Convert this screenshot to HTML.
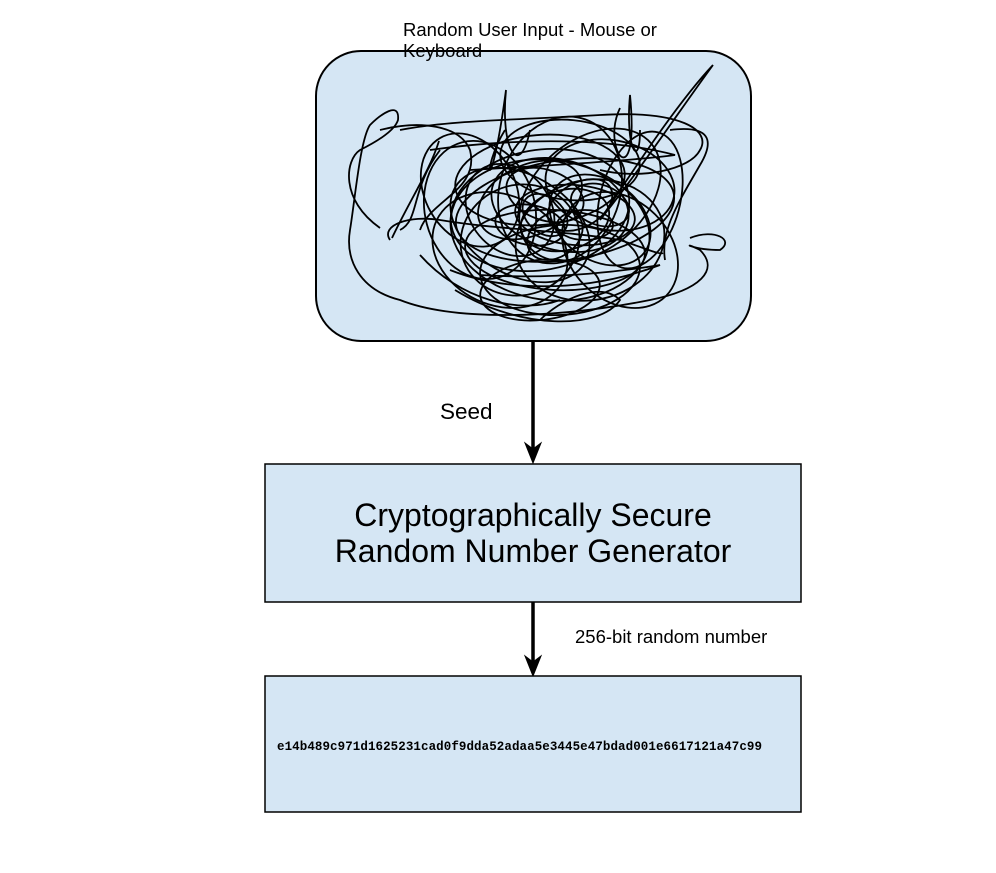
<!DOCTYPE html>
<html><head><meta charset="utf-8"><style>
html,body{margin:0;padding:0;background:#fff;}
svg{display:block;}
</style></head><body>
<svg width="996" height="873" viewBox="0 0 996 873" xmlns="http://www.w3.org/2000/svg">
<rect x="316" y="51" width="435" height="290" rx="45" ry="45" fill="#d5e6f4" stroke="#000" stroke-width="2"/>
<g fill="none" stroke="#000" stroke-width="1.8">
<ellipse cx="540" cy="210" rx="90" ry="60" transform="rotate(-10 540 210)"/>
<ellipse cx="560" cy="205" rx="70" ry="45" transform="rotate(15 560 205)"/>
<ellipse cx="530" cy="200" rx="55" ry="35" transform="rotate(-25 530 200)"/>
<ellipse cx="575" cy="215" rx="60" ry="30" transform="rotate(5 575 215)"/>
<ellipse cx="520" cy="225" rx="75" ry="50" transform="rotate(30 520 225)"/>
<ellipse cx="590" cy="195" rx="80" ry="55" transform="rotate(-40 590 195)"/>
<ellipse cx="550" cy="230" rx="100" ry="70" transform="rotate(8 550 230)"/>
<ellipse cx="545" cy="195" rx="40" ry="25" transform="rotate(20 545 195)"/>
<ellipse cx="565" cy="220" rx="45" ry="30" transform="rotate(-15 565 220)"/>
<ellipse cx="510" cy="210" rx="50" ry="40" transform="rotate(50 510 210)"/>
<ellipse cx="600" cy="220" rx="55" ry="40" transform="rotate(35 600 220)"/>
<ellipse cx="540" cy="180" rx="85" ry="45" transform="rotate(-5 540 180)"/>
<ellipse cx="555" cy="250" rx="90" ry="40" transform="rotate(3 555 250)"/>
<ellipse cx="580" cy="205" rx="35" ry="22" transform="rotate(-30 580 205)"/>
<ellipse cx="530" cy="225" rx="35" ry="20" transform="rotate(10 530 225)"/>
<ellipse cx="560" cy="190" rx="60" ry="75" transform="rotate(20 560 190)"/>
<ellipse cx="520" cy="240" rx="60" ry="55" transform="rotate(-20 520 240)"/>
<ellipse cx="610" cy="185" rx="65" ry="45" transform="rotate(10 610 185)"/>
<ellipse cx="480" cy="210" rx="55" ry="70" transform="rotate(-15 480 210)"/>
<ellipse cx="565" cy="210" rx="110" ry="50" transform="rotate(-8 565 210)"/>
<ellipse cx="545" cy="215" rx="25" ry="18" transform="rotate(40 545 215)"/>
<ellipse cx="585" cy="225" rx="28" ry="15"/>
<ellipse cx="590" cy="240" rx="75" ry="60" transform="rotate(-12 590 240)"/>
<ellipse cx="500" cy="250" rx="70" ry="55" transform="rotate(25 500 250)"/>
<ellipse cx="620" cy="250" rx="65" ry="50" transform="rotate(45 620 250)"/>
<ellipse cx="560" cy="270" rx="80" ry="45" transform="rotate(-3 560 270)"/>
<ellipse cx="470" cy="190" rx="45" ry="60" transform="rotate(-30 470 190)"/>
<ellipse cx="640" cy="200" rx="40" ry="70" transform="rotate(15 640 200)"/>
<ellipse cx="570" cy="160" rx="70" ry="40" transform="rotate(6 570 160)"/>
<ellipse cx="540" cy="290" rx="60" ry="30" transform="rotate(-6 540 290)"/>
<ellipse cx="600" cy="205" rx="30" ry="20" transform="rotate(20 600 205)"/>
<ellipse cx="555" cy="235" rx="30" ry="22" transform="rotate(-35 555 235)"/>
<path d="M380 228 C340 200 345 160 360 150 C380 140 395 130 398 120 C400 100 380 115 370 125 C360 140 355 200 350 230 C345 260 360 290 400 300 C450 320 550 320 650 300 C700 290 720 270 700 250 C680 240 690 250 720 250 C735 240 715 228 690 238"/>
<path d="M390 240 C380 225 410 215 440 220 C500 230 560 230 620 240 C650 250 660 255 663 253"/>
<path d="M400 230 C420 220 410 190 440 150 M392 238 C410 200 430 170 439 141"/>
<path d="M505 130 C480 170 490 210 506 90 C500 150 520 180 530 130"/>
<path d="M620 108 C600 150 640 200 630 95 C625 150 640 170 640 130"/>
<path d="M713 65 C680 100 640 160 600 220 C640 170 680 110 713 65"/>
<path d="M400 130 C450 120 520 120 600 115 C680 110 712 130 700 150 C690 170 640 180 600 170"/>
<path d="M430 150 C500 140 600 135 675 155 C640 160 560 165 470 170"/>
<path d="M450 270 C500 290 580 295 660 265 C630 270 560 280 480 275"/>
<path d="M455 290 C520 330 600 330 620 300 C600 280 560 300 540 320"/>
<path d="M420 255 C460 300 520 315 560 300"/>
<path d="M670 130 C710 125 715 140 700 165 C680 200 660 230 665 260"/>
<path d="M380 130 C420 120 460 125 470 150 C480 190 430 200 420 230"/>
</g>
<text x="403" y="36" font-family="Liberation Sans, sans-serif" font-size="18.5" fill="#000">Random User Input - Mouse or</text>
<text x="403" y="57" font-family="Liberation Sans, sans-serif" font-size="18.5" fill="#000">Keyboard</text>
<line x1="533" y1="341" x2="533" y2="450" stroke="#000" stroke-width="3.5"/>
<path d="M525 443 L533 463 L541 443 L533 449 Z" fill="#000" stroke="#000" stroke-width="1"/>
<text x="440" y="419" font-family="Liberation Sans, sans-serif" font-size="22.5" fill="#000">Seed</text>
<rect x="265" y="464" width="536" height="138" fill="#d5e6f4" stroke="#000" stroke-width="1.5"/>
<text x="533" y="526" text-anchor="middle" font-family="Liberation Sans, sans-serif" font-size="32" fill="#000">Cryptographically Secure</text>
<text x="533" y="562" text-anchor="middle" font-family="Liberation Sans, sans-serif" font-size="32" fill="#000">Random Number Generator</text>
<line x1="533" y1="602" x2="533" y2="663" stroke="#000" stroke-width="3.5"/>
<path d="M525 656 L533 676 L541 656 L533 662 Z" fill="#000" stroke="#000" stroke-width="1"/>
<text x="575" y="643" font-family="Liberation Sans, sans-serif" font-size="18.5" fill="#000">256-bit random number</text>
<rect x="265" y="676" width="536" height="136" fill="#d5e6f4" stroke="#000" stroke-width="1.5"/>
<text x="277" y="750" textLength="485" font-family="Liberation Mono, monospace" font-size="12.5" font-weight="bold" fill="#000">e14b489c971d1625231cad0f9dda52adaa5e3445e47bdad001e6617121a47c99</text>
</svg>
</body></html>
